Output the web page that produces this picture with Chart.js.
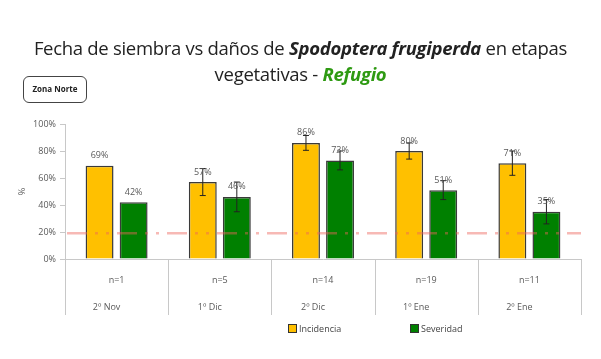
<!DOCTYPE html>
<html>
<head>
<meta charset="utf-8">
<script src="https://cdn.jsdelivr.net/npm/chart.js"></script>
<style>
  body { margin: 0; background: #fff; }
  #wrap { position: relative; width: 601px; height: 359px; overflow: hidden; }
  #title {
    position: absolute; left: 0; top: 35px; width: 601px;
    text-align: center; font-family: "Open Sans", sans-serif;
    font-size: 18.5px; line-height: 26px; color: #222; letter-spacing: -0.3px;
  }
  #title b { font-style: italic; }
  #title .green { color: #2e9a12; }
  #zona {
    position: absolute; left: 23px; top: 76px; width: 64px; height: 27px;
    border: 1.5px solid #444; border-radius: 6px; box-sizing: border-box;
    font-family: "Open Sans", sans-serif; font-size: 8px; font-weight: bold;
    line-height: 24px; text-align: center; color: #222;
  }
  #legend {
    position: absolute; top: 322px; left: 0; width: 601px; height: 14px;
    font-family: "Open Sans", sans-serif; font-size: 9px; color: #444;
  }
  .item { position: absolute; top: 0; line-height: 14px; }
  .sw { display: inline-block; width: 7px; height: 7px; border: 1px solid #333; vertical-align: -1px; margin-right: 2px; }
  canvas { position: absolute; left: 0; top: 0; }
</style>
</head>
<body>
<div id="wrap">
  <canvas id="chart" width="601" height="359"></canvas>
  <div id="title">Fecha de siembra vs daños de <b>Spodoptera frugiperda</b> en etapas<br>vegetativas - <b class="green">Refugio</b></div>
  <div id="zona">Zona Norte</div>
  <div id="legend">
    <span class="item" style="left:288px"><span class="sw" style="background:#ffc000"></span>Incidencia</span>
    <span class="item" style="left:410px"><span class="sw" style="background:#008000"></span>Severidad</span>
  </div>
</div>
<script>
// chart data
const fechas = ['2º Nov', '1º Dic', '2º Dic', '1º Ene', '2º Ene'];
const muestras = ['n=1', 'n=5', 'n=14', 'n=19', 'n=11'];
const incidencia = [69, 57, 86, 80, 71];
const severidad = [42, 46, 73, 51, 35];
// error bar half widths (percentage points)
const errIncidencia = [0, 10, 5.5, 6, 9];
const errSeveridad = [0, 11, 7, 7, 9];
const umbral = 19;
const yTicks = [0, 20, 40, 60, 80, 100];

const textColor = '#595959';
const smallFont = '9px "Open Sans", sans-serif';

// error bars, value labels and threshold line
const extrasPlugin = {
    id: 'extras',
    afterDatasetsDraw(chart) {
        const ctx = chart.ctx;
        const y = chart.scales.y;
        const errs = [errIncidencia, errSeveridad];

        chart.data.datasets.forEach((ds, di) => {
            const meta = chart.getDatasetMeta(di);
            meta.data.forEach((bar, i) => {
                const e = errs[di][i];
                const v = ds.data[i];
                if (e > 0) {
                    const top = y.getPixelForValue(v + e);
                    const bot = y.getPixelForValue(v - e);
                    ctx.save();
                    ctx.strokeStyle = '#222';
                    ctx.lineWidth = 1;
                    ctx.beginPath();
                    ctx.moveTo(bar.x, top); ctx.lineTo(bar.x, bot);
                    ctx.moveTo(bar.x - 3, top); ctx.lineTo(bar.x + 3, top);
                    ctx.moveTo(bar.x - 3, bot); ctx.lineTo(bar.x + 3, bot);
                    ctx.stroke();
                    ctx.restore();
                }
            });
        });

        // threshold line
        const ty = y.getPixelForValue(umbral);
        ctx.save();
        ctx.strokeStyle = 'rgba(238, 100, 90, 0.45)';
        ctx.lineWidth = 2.5;
        ctx.setLineDash([20, 8, 3, 8, 3, 8]);
        ctx.beginPath();
        ctx.moveTo(chart.chartArea.left + 2, ty);
        ctx.lineTo(chart.chartArea.right, ty);
        ctx.stroke();
        ctx.restore();

        // value labels
        ctx.save();
        ctx.font = smallFont;
        ctx.fillStyle = textColor;
        ctx.textAlign = 'center';
        ctx.textBaseline = 'middle';
        chart.data.datasets.forEach((ds, di) => {
            chart.getDatasetMeta(di).data.forEach((bar, i) => {
                ctx.fillText(ds.data[i] + '%', bar.x, bar.y - 10);
            });
        });
        ctx.restore();
    },
    afterDraw(chart) {
        // category separators and two row x labels
        const ctx = chart.ctx;
        const x = chart.scales.x;
        const area = chart.chartArea;
        const n = fechas.length;
        const w = (area.right - area.left) / n;
        ctx.save();
        ctx.strokeStyle = '#c8c8c8';
        ctx.lineWidth = 1;
        ctx.beginPath();
        for (let i = 0; i <= n; i++) {
            const px = Math.round(area.left + i * w) + 0.5;
            ctx.moveTo(px, area.bottom);
            ctx.lineTo(px, area.bottom + 56);
        }
        ctx.stroke();
        ctx.font = smallFont;
        ctx.fillStyle = textColor;
        ctx.textAlign = 'center';
        ctx.textBaseline = 'middle';
        for (let i = 0; i < n; i++) {
            const cx = x.getPixelForValue(i);
            ctx.fillText(muestras[i], cx, area.bottom + 21);
            ctx.fillText(fechas[i], cx - 10, area.bottom + 48);
        }
        ctx.restore();
    }
};

new Chart(document.getElementById('chart'), {
    type: 'bar',
    data: {
        labels: fechas,
        datasets: [
            {
                label: 'Incidencia',
                data: incidencia,
                backgroundColor: '#ffc000',
                borderColor: '#3a3a3a',
                borderWidth: 1.5
            },
            {
                label: 'Severidad',
                data: severidad,
                backgroundColor: '#008000',
                borderColor: '#3a3a3a',
                borderWidth: 1.5
            }
        ]
    },
    options: {
        responsive: false,
        animation: false,
        categoryPercentage: 0.66,
        barPercentage: 0.82,
        layout: { padding: { left: 17, right: 20, top: 124, bottom: 100 } },
        plugins: {
            legend: { display: false },
            tooltip: { enabled: false }
        },
        scales: {
            x: {
                afterFit(scale) { scale.height = 0; },
                ticks: { display: false },
                grid: { display: false },
                border: { display: true, color: '#c8c8c8' }
            },
            y: {
                min: 0,
                max: 100,
                afterFit(scale) { scale.width = 48; },
                afterBuildTicks(scale) { scale.ticks = yTicks.map(v => ({ value: v })); },
                ticks: {
                    padding: 4,
                    color: textColor,
                    font: { family: '"Open Sans", sans-serif', size: 9 },
                    callback: v => v + '%'
                },
                grid: { drawOnChartArea: false, drawTicks: true, tickLength: 5, color: '#c8c8c8' },
                border: { display: true, color: '#c8c8c8' },
                title: {
                    display: true,
                    text: '%',
                    color: textColor,
                    font: { family: '"Open Sans", sans-serif', size: 9 },
                    padding: 0
                }
            }
        }
    },
    plugins: [extrasPlugin]
});
</script>
</body>
</html>
